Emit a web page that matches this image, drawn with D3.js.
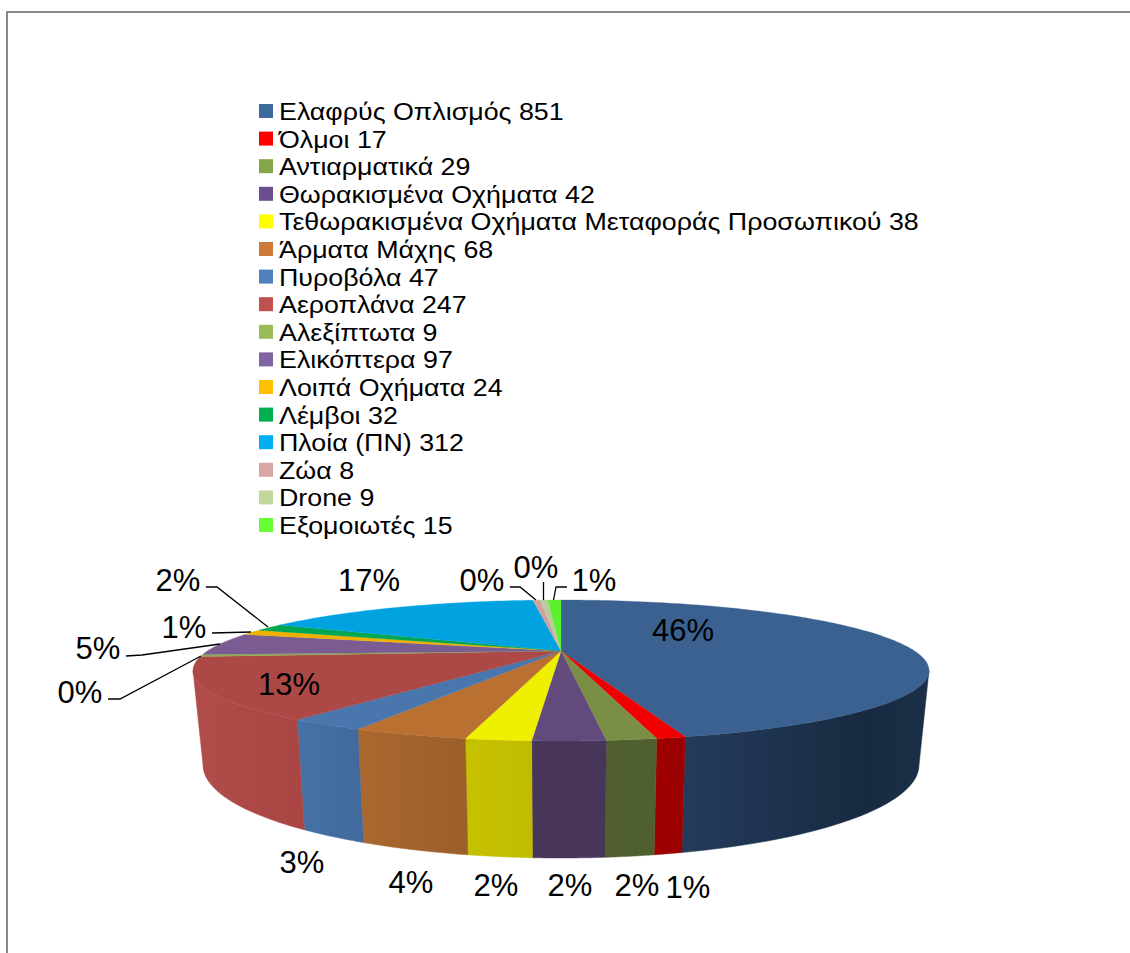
<!DOCTYPE html>
<html><head><meta charset="utf-8">
<style>html,body{margin:0;padding:0;background:#fff}svg{display:block}text{font-family:"Liberation Sans",Arial,sans-serif;fill:#000}</style>
<script src="https://cdn.jsdelivr.net/npm/d3@7"></script>
</head><body><svg id="c" width="1130" height="953"></svg>
<script>
const categories=["Ελαφρύς Οπλισμός","Όλμοι","Αντιαρματικά","Θωρακισμένα Οχήματα","Τεθωρακισμένα Οχήματα Μεταφοράς Προσωπικού","Άρματα Μάχης","Πυροβόλα","Αεροπλάνα","Αλεξίπτωτα","Ελικόπτερα","Λοιπά Οχήματα","Λέμβοι","Πλοία (ΠΝ)","Ζώα","Drone","Εξομοιωτές"];
const values=[851,17,29,42,38,68,47,247,9,97,24,32,312,8,9,15];
const legendColors=["#3d6b9e","#ff0000","#86a44a","#6a4f8f","#ffff00","#cc7a36","#4f81bd","#c0504d","#9bbb59","#8064a2","#ffc000","#00b050","#00b0f0","#d9a6a4","#c3d69b","#66ff33"];
const topColors=["#3a6190","#f00000","#7a8f45","#634a7c","#efef00","#b97030","#4876ad","#ac4846","#8cad4e","#7a5c92","#f0b000","#00a650","#00a2e0","#d0a09e","#bccaa0","#5cf02e"];
const wallFrom=["#243b5b","#a00000","#505f2d","#48365a","#c6c200","#ab682e","#4672a8","#b04c49","#7a9040","#5c4470","#c09000","#008040","#0080b0","#a07070","#90a070","#40c020"];
const wallTo=["#172a40","#9a0000","#4f5f2e","#47365a","#bfbb00","#9b5f2a","#41699c","#a94643","#7a9040","#5c4470","#c09000","#008040","#0080b0","#a07070","#90a070","#40c020"];
const labelAnchors=[[683,630],[688,887],[637,885],[570,885],[496,885],[411,882],[302,862],[289,684],[80,692],[98,648],[184,627],[178,580],[369,580],[482,580],[536,567],[594,580]];
const leaders=[null,null,null,null,null,null,null,null,
 [[108,699],[120,699],[201,656]],[[126,656],[142,655],[220,644]],[[212,633],[251,632]],[[206,587],[217,587],[268,627]],null,
 [[510,587],[520,587],[536,600]],[[543.5,582],[543.5,600]],[[567,587],[556,587],[553.5,600]]];

const svg=d3.select("#c");
const defs=svg.append("defs");
// frame
svg.append("path").attr("d","M1130,12H7V953").attr("fill","none").attr("stroke","#888").attr("stroke-width",2);

// geometry of the perspective disc
const cx=561, apexY=651, k=0.277, R=353.6, S=65.1, warp=0.07;
const topRx=368, topRy=70.5, topCy=670.5, botRx=358, botRy=93, botCy=765;
const project=t=>{const x=Math.sin(t),y=-Math.cos(t),w=1-k*y;return [cx+R*x/w,apexY+S*y/w];};
const phi=t=>{const [X,Y]=project(t);let p=Math.atan2((X-cx)/topRx,-(Y-topCy)/topRy);if(p<-1e-6)p+=2*Math.PI;return p-warp*Math.sin(p);};
const topEll=p=>[cx+topRx*Math.sin(p),topCy-topRy*Math.cos(p)];
const botEll=p=>[cx+botRx*Math.sin(p),botCy-botRy*Math.cos(p)];

const total=d3.sum(values);
const arcs=d3.pie().sort(null).value(d=>d)(values);
const line=d3.line();
const samples=(a,b,n)=>d3.range(n+1).map(i=>a+(b-a)*i/n);
const pct=d3.format(".0%");

// walls
const walls=svg.append("g");
arcs.forEach((a,i)=>{
  const p0=Math.max(phi(a.startAngle),Math.PI/2);
  const p1=Math.min(i===arcs.length-1?2*Math.PI:phi(a.endAngle),Math.PI*1.5);
  if(p1<=p0) return;
  const up=samples(p0,p1,40).map(topEll);
  const dn=samples(p1,p0,40).map(botEll);
  const xs=[...up,...dn].map(d=>d[0]);
  const g=defs.append("linearGradient").attr("id","w"+i).attr("gradientUnits","userSpaceOnUse")
    .attr("x1",d3.min(xs)).attr("x2",d3.max(xs)).attr("y1",0).attr("y2",0);
  g.append("stop").attr("offset",0).attr("stop-color",wallFrom[i]);
  g.append("stop").attr("offset",i===0?0.75:1).attr("stop-color",wallTo[i]);
  if(i===0) g.append("stop").attr("offset",1).attr("stop-color","#1b2f48");
  walls.append("path").attr("d",line([...up,...dn])+"Z").attr("fill",`url(#w${i})`).attr("stroke",`url(#w${i})`).attr("stroke-width",0.5);
});

// top face
const tops=svg.append("g");
arcs.forEach((a,i)=>{
  const end=i===arcs.length-1?2*Math.PI:phi(a.endAngle);
  const start=phi(a.startAngle);
  const n=Math.max(4,Math.ceil((end-start)*60));
  const pts=[[cx,apexY],...samples(start,end,n).map(topEll)];
  tops.append("path").attr("d",line(pts)+"Z").attr("fill",topColors[i]).attr("stroke",topColors[i]).attr("stroke-width",0.3);
});

// leaders
svg.append("g").selectAll("path").data(leaders.filter(Boolean)).join("path")
  .attr("d",d=>line(d)).attr("fill","none").attr("stroke","#000").attr("stroke-width",1.3);

// data labels
svg.append("g").selectAll("text").data(values).join("text")
  .attr("x",(d,i)=>labelAnchors[i][0]).attr("y",(d,i)=>labelAnchors[i][1])
  .attr("text-anchor","middle").attr("dominant-baseline","central")
  .attr("font-size",31).text(d=>pct(d/total));

// legend
const ly=d3.scalePoint().domain(d3.range(categories.length)).range([111,525]);
const leg=svg.append("g").selectAll("g").data(categories).join("g").attr("transform",(d,i)=>`translate(259,${ly(i)})`);
leg.append("rect").attr("y",-7).attr("width",14).attr("height",14).attr("fill",(d,i)=>legendColors[i]);
leg.append("text").attr("transform","translate(20,9) scale(1.09,1)").attr("font-size",24.6).text((d,i)=>d+" "+values[i]);
</script></body></html>
